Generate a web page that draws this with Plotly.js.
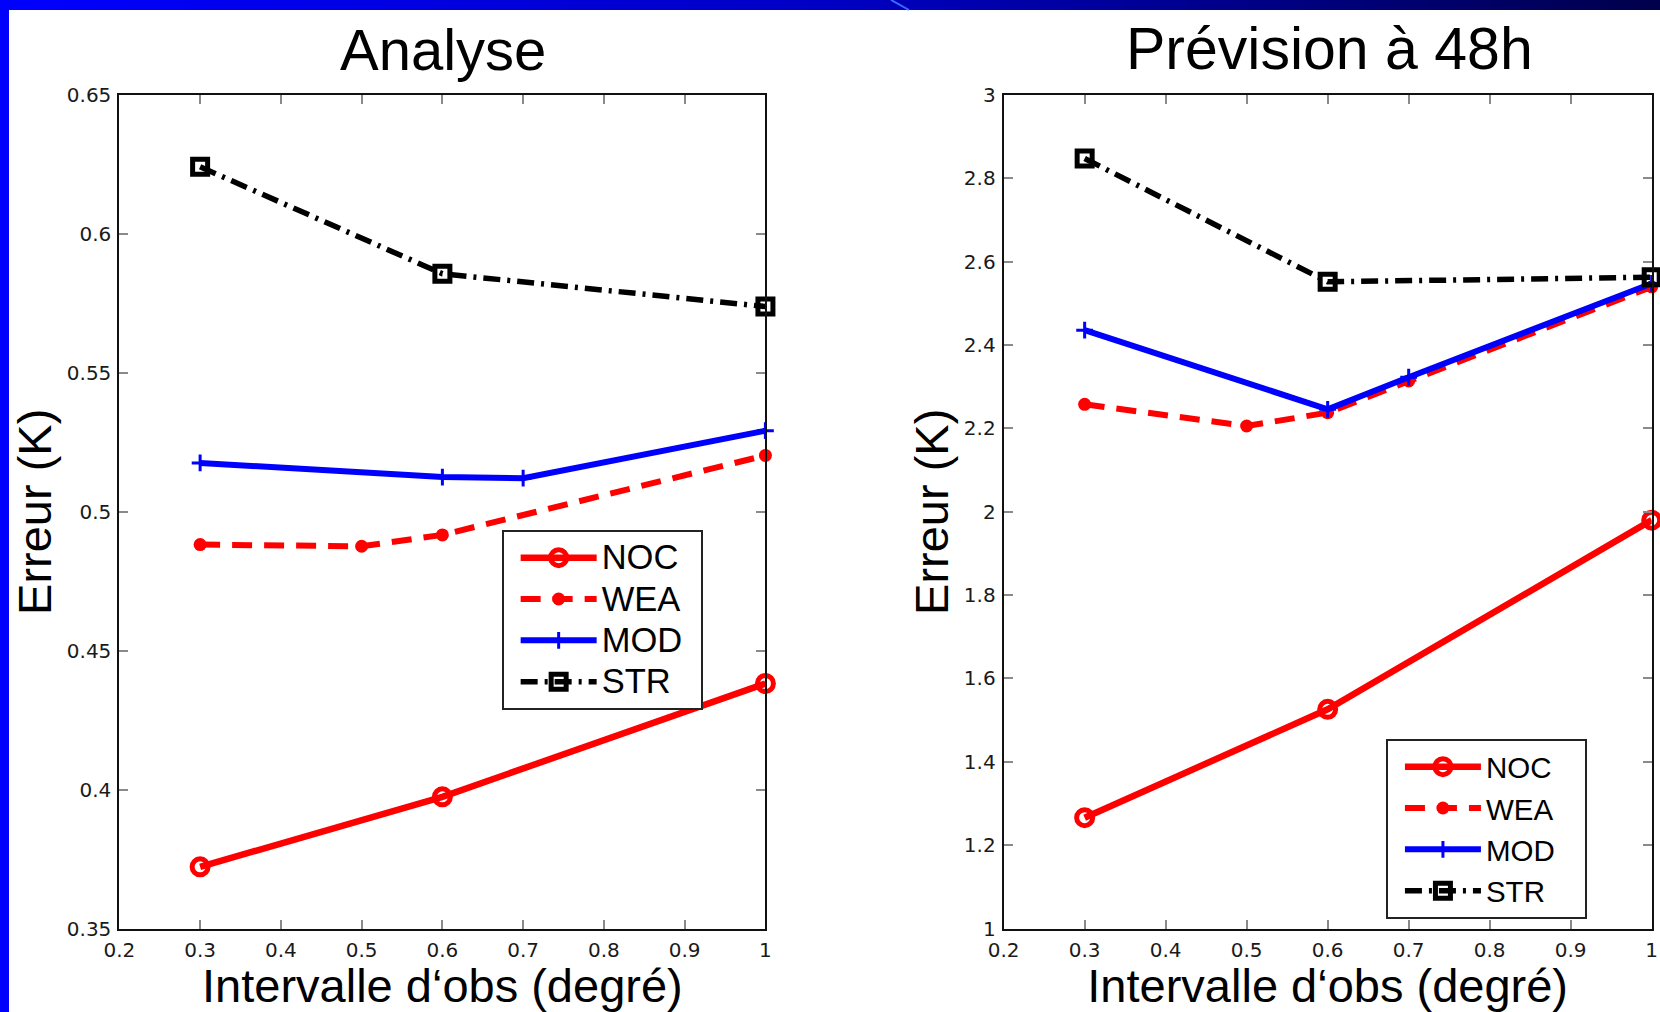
<!DOCTYPE html>
<html><head><meta charset="utf-8">
<script src="https://cdn.plot.ly/plotly-3.0.1.min.js"></script>
<style>
html,body{margin:0;padding:0;background:#fff;overflow:hidden}
#wrap{position:relative;width:1660px;height:1012px}
#chart{position:absolute;left:0;top:0;width:1660px;height:1012px}
#topbar{position:absolute;left:0;top:0;width:1660px;height:10px;background:linear-gradient(to right,#0000ff,#0000c4 50%,#00004c);z-index:5}
#leftbar{position:absolute;left:0;top:0;width:9px;height:1012px;background:#0000ff;z-index:6}
#diag{position:absolute;left:0;top:0;z-index:7}
#chart .legendtext{font-size:34.5px !important}
</style>
</head>
<body>
<div id="wrap">
<div id="chart"></div>
<div id="topbar"></div>
<div id="leftbar"></div>
<svg id="diag" width="1660" height="12"><line x1="891" y1="0" x2="909" y2="10" stroke="#3a6cff" stroke-width="2"/></svg>
</div>
<script>
// ---- data ----
const seriesNames = ['NOC', 'WEA', 'MOD', 'STR'];

// Analyse
const anaNOC_x = [0.3, 0.6, 1];
const anaNOC_y = [0.3722, 0.3974, 0.4382];
const anaWEA_x = [0.3, 0.5, 0.6, 1];
const anaWEA_y = [0.4882, 0.4876, 0.4917, 0.5203];
const anaMOD_x = [0.3, 0.6, 0.7, 1];
const anaMOD_y = [0.5176, 0.5125, 0.5121, 0.5292];
const anaSTR_x = [0.3, 0.6, 1];
const anaSTR_y = [0.6242, 0.5857, 0.5739];

// Prévision à 48h
const preNOC_x = [0.3, 0.6, 1];
const preNOC_y = [1.266, 1.526, 1.980];
const preWEA_x = [0.3, 0.5, 0.6, 0.7, 1];
const preWEA_y = [2.258, 2.206, 2.238, 2.314, 2.540];
const preMOD_x = [0.3, 0.6, 0.7, 1];
const preMOD_y = [2.436, 2.246, 2.323, 2.548];
const preSTR_x = [0.3, 0.6, 1];
const preSTR_y = [2.848, 2.552, 2.563];

// ticks
const xTickVals = [0.2, 0.3, 0.4, 0.5, 0.6, 0.7, 0.8, 0.9, 1];
const xTickText = ['0.2', '0.3', '0.4', '0.5', '0.6', '0.7', '0.8', '0.9', '1'];
const yAnaTickVals = [0.35, 0.4, 0.45, 0.5, 0.55, 0.6, 0.65];
const yAnaTickText = ['0.35', '0.4', '0.45', '0.5', '0.55', '0.6', '0.65'];
const yPreTickVals = [1, 1.2, 1.4, 1.6, 1.8, 2, 2.2, 2.4, 2.6, 2.8, 3];
const yPreTickText = ['1', '1.2', '1.4', '1.6', '1.8', '2', '2.2', '2.4', '2.6', '2.8', '3'];

const titleAna = 'Analyse';
const titlePre = 'Prévision à 48h';
const xTitle = 'Intervalle d‘obs (degré)';
const yTitle = 'Erreur (K)';

// ---- styles ----
const FONT = '"Liberation Sans", Arial, Helvetica, sans-serif';
const TICKFONT = '"DejaVu Sans", "Liberation Sans", sans-serif';
const PAD = '\u00a0\u00a0\u00a0';
const styles = {
  NOC: {line: {color: '#ff0000', width: 6.5, dash: 'solid'}, marker: {symbol: 'circle-open', size: 16, color: '#ff0000', line: {width: 5, color: '#ff0000'}}},
  WEA: {line: {color: '#ff0000', width: 6, dash: '20px,12px'}, marker: {symbol: 'circle', size: 13, color: '#ff0000'}},
  MOD: {line: {color: '#0000ff', width: 6, dash: 'solid'}, marker: {symbol: 'cross-thin-open', size: 12, color: '#0000ff', line: {width: 3, color: '#0000ff'}}},
  STR: {line: {color: '#000000', width: 5.5, dash: '17px,7px,3px,7px'}, marker: {symbol: 'square-open', size: 15, color: '#000000', line: {width: 5, color: '#000000'}}}
};

function mk(name, x, y, xa, ya, leg) {
  const s = styles[name];
  return {type: 'scatter', mode: 'lines+markers', name: name + PAD, x: x, y: y, xaxis: xa, yaxis: ya,
    legend: leg, line: s.line, marker: s.marker, cliponaxis: false, hoverinfo: 'x+y'};
}

const data = [
  mk(seriesNames[0], anaNOC_x, anaNOC_y, 'x', 'y', 'legend'),
  mk(seriesNames[1], anaWEA_x, anaWEA_y, 'x', 'y', 'legend'),
  mk(seriesNames[2], anaMOD_x, anaMOD_y, 'x', 'y', 'legend'),
  mk(seriesNames[3], anaSTR_x, anaSTR_y, 'x', 'y', 'legend'),
  mk(seriesNames[0], preNOC_x, preNOC_y, 'x2', 'y2', 'legend2'),
  mk(seriesNames[1], preWEA_x, preWEA_y, 'x2', 'y2', 'legend2'),
  mk(seriesNames[2], preMOD_x, preMOD_y, 'x2', 'y2', 'legend2'),
  mk(seriesNames[3], preSTR_x, preSTR_y, 'x2', 'y2', 'legend2')
];

function xAx(dom, anchor) {
  return {domain: dom, anchor: anchor, range: [0.2, 1], tickmode: 'array', tickvals: xTickVals, ticktext: xTickText,
    ticks: 'inside', ticklen: 9, tickwidth: 1.5, tickcolor: '#8a8a8a', showline: true, linecolor: '#111', linewidth: 2,
    mirror: 'ticks', showgrid: false, zeroline: false, ticklabelstandoff: 2,
    tickfont: {family: TICKFONT, size: 20, color: '#1a1a1a'},
    title: {text: xTitle, font: {family: FONT, size: 47, color: '#000'}, standoff: 22}, automargin: false, fixedrange: true};
}
function yAx(range, tv, tt, anchor) {
  return {domain: [0.0825, 0.906], anchor: anchor, range: range, tickmode: 'array', tickvals: tv, ticktext: tt,
    ticks: 'inside', ticklen: 9, tickwidth: 1.5, tickcolor: '#8a8a8a', showline: true, linecolor: '#111', linewidth: 2,
    mirror: 'ticks', showgrid: false, zeroline: false, ticklabelstandoff: 2,
    tickfont: {family: TICKFONT, size: 20, color: '#1a1a1a'},
    title: {text: yTitle, font: {family: FONT, size: 47, color: '#000'}, standoff: 0}, automargin: false, fixedrange: true};
}

const legendBase = {bgcolor: '#ffffff', bordercolor: '#222', borderwidth: 2, font: {family: FONT, size: 29.5, color: '#000'},
  itemwidth: 76, indentation: 12, traceorder: 'normal', xanchor: 'left', yanchor: 'top', xref: 'paper', yref: 'paper', tracegroupgap: 0};

const layout = {
  width: 1660, height: 1012, margin: {l: 0, r: 0, t: 0, b: 0},
  paper_bgcolor: '#ffffff', plot_bgcolor: '#ffffff', showlegend: true,
  font: {family: FONT},
  xaxis: xAx([0.0719, 0.4611], 'y'),
  yaxis: yAx([0.35, 0.65], yAnaTickVals, yAnaTickText, 'x'),
  xaxis2: xAx([0.6046, 0.9950], 'y2'),
  yaxis2: yAx([1, 3], yPreTickVals, yPreTickText, 'x2'),
  legend: Object.assign({}, legendBase, {x: 0.3022, y: 0.4763}),
  legend2: Object.assign({}, legendBase, {x: 0.8349, y: 0.2698}),
  annotations: [
    {text: titleAna, xref: 'paper', yref: 'paper', x: 0.2666, y: 0.9515, xanchor: 'center', yanchor: 'middle', showarrow: false, font: {family: FONT, size: 58, color: '#000'}},
    {text: titlePre, xref: 'paper', yref: 'paper', x: 0.8012, y: 0.9515, xanchor: 'center', yanchor: 'middle', showarrow: false, font: {family: FONT, size: 59, color: '#000'}}
  ]
};

Plotly.newPlot('chart', data, layout, {displayModeBar: false});
</script>
</body></html>
